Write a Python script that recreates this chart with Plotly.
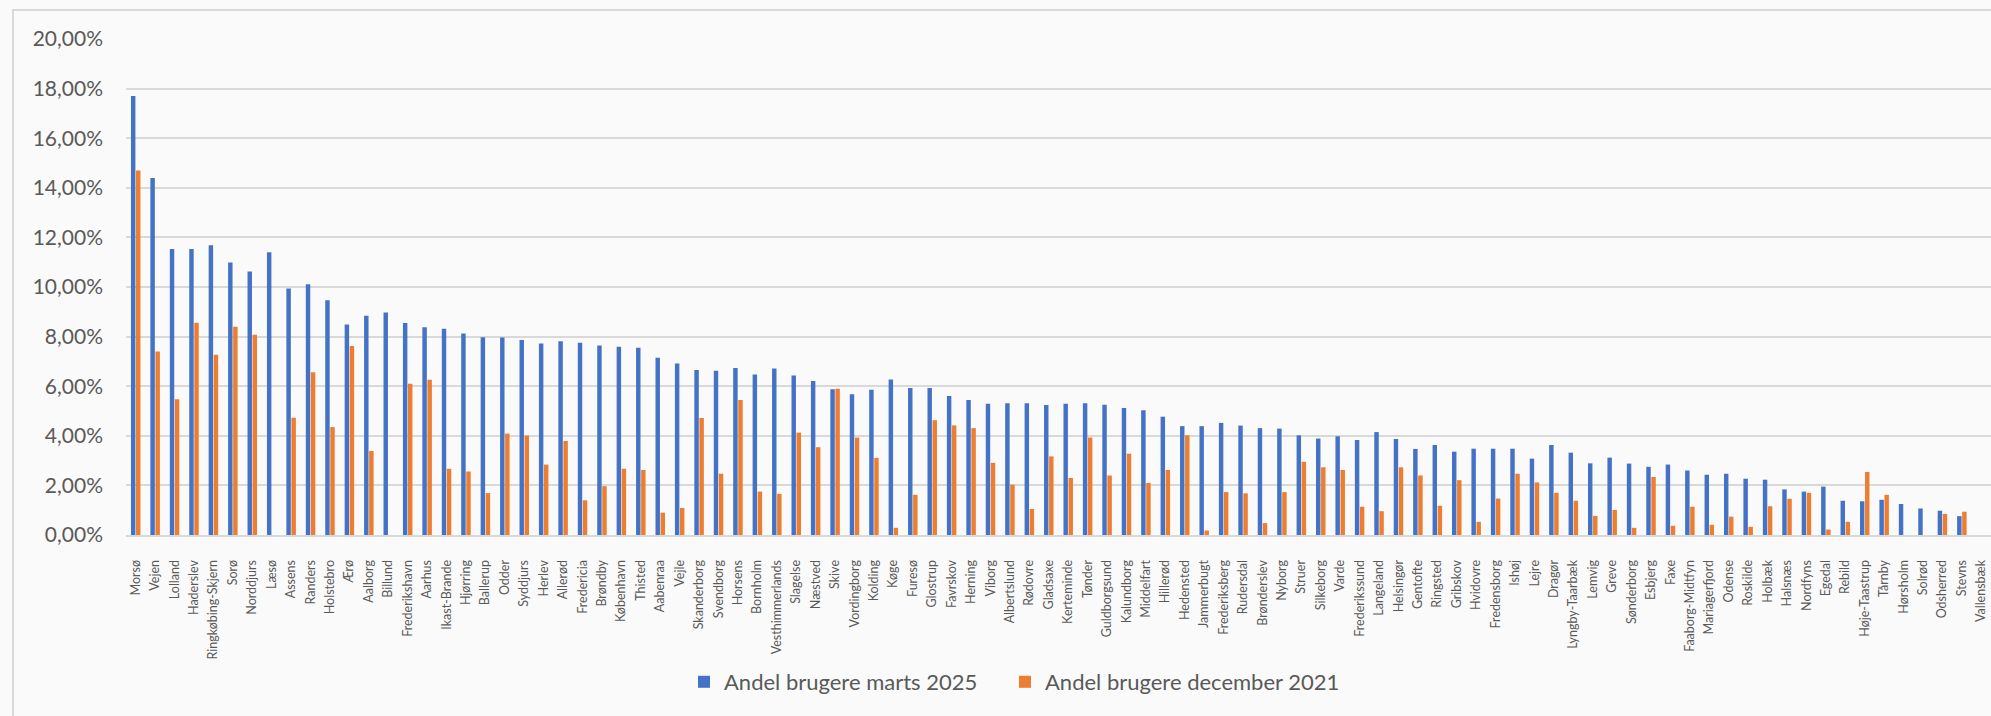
import plotly.graph_objects as go

kommuner = ["Morsø", "Vejen", "Lolland", "Haderslev", "Ringkøbing-Skjern", "Sorø", "Norddjurs", "Læsø",
            "Assens", "Randers", "Holstebro", "Ærø", "Aalborg", "Billund", "Frederikshavn", "Aarhus",
            "Ikast-Brande", "Hjørring", "Ballerup", "Odder", "Syddjurs", "Herlev", "Allerød", "Fredericia",
            "Brøndby", "København", "Thisted", "Aabenraa", "Vejle", "Skanderborg", "Svendborg", "Horsens",
            "Bornholm", "Vesthimmerlands", "Slagelse", "Næstved", "Skive", "Vordingborg", "Kolding", "Køge",
            "Furesø", "Glostrup", "Favrskov", "Herning", "Viborg", "Albertslund", "Rødovre", "Gladsaxe",
            "Kerteminde", "Tønder", "Guldborgsund", "Kalundborg", "Middelfart", "Hillerød", "Hedensted",
            "Jammerbugt", "Frederiksberg", "Rudersdal", "Brønderslev", "Nyborg", "Struer", "Silkeborg",
            "Varde", "Frederikssund", "Langeland", "Helsingør", "Gentofte", "Ringsted", "Gribskov",
            "Hvidovre", "Fredensborg", "Ishøj", "Lejre", "Dragør", "Lyngby-Taarbæk", "Lemvig", "Greve",
            "Sønderborg", "Esbjerg", "Faxe", "Faaborg-Midtfyn", "Mariagerfjord", "Odense", "Roskilde",
            "Holbæk", "Halsnæs", "Nordfyns", "Egedal", "Rebild", "Høje-Taastrup", "Tårnby", "Hørsholm",
            "Solrød", "Odsherred", "Stevns", "Vallensbæk"]

# percent values
marts_2025 = [17.70, 14.40, 11.53, 11.53, 11.68, 10.99, 10.63, 11.40,
              9.94, 10.11, 9.47, 8.49, 8.84, 8.97, 8.55, 8.38,
              8.32, 8.12, 7.97, 7.96, 7.86, 7.72, 7.81, 7.75,
              7.64, 7.59, 7.55, 7.15, 6.92, 6.65, 6.62, 6.73,
              6.47, 6.71, 6.43, 6.21, 5.88, 5.68, 5.86, 6.27,
              5.93, 5.93, 5.60, 5.44, 5.29, 5.31, 5.31, 5.24,
              5.29, 5.31, 5.25, 5.12, 5.03, 4.77, 4.39,
              4.39, 4.52, 4.41, 4.31, 4.29, 4.02, 3.89,
              3.98, 3.83, 4.15, 3.87, 3.47, 3.63, 3.36,
              3.48, 3.48, 3.48, 3.08, 3.63, 3.32, 2.89, 3.12,
              2.88, 2.75, 2.84, 2.60, 2.43, 2.47, 2.27,
              2.23, 1.84, 1.75, 1.95, 1.38, 1.36, 1.42, 1.25,
              1.07, 0.98, 0.76, None]

december_2021 = [14.70, 7.40, 5.47, 8.56, 7.27, 8.40, 8.07, None,
                 4.73, 6.56, 4.35, 7.62, 3.39, None, 6.10, 6.26,
                 2.67, 2.56, 1.69, 4.09, 4.01, 2.84, 3.79, 1.40,
                 1.97, 2.67, 2.62, 0.90, 1.09, 4.72, 2.47, 5.44,
                 1.75, 1.66, 4.13, 3.54, 5.90, 3.93, 3.11, 0.29,
                 1.62, 4.63, 4.42, 4.31, 2.91, 2.03, 1.05, 3.17,
                 2.30, 3.93, 2.40, 3.28, 2.10, 2.62, 4.02,
                 0.18, 1.73, 1.68, 0.48, 1.73, 2.95, 2.73,
                 2.62, 1.14, 0.96, 2.73, 2.40, 1.18, 2.21,
                 0.53, 1.47, 2.47, 2.12, 1.70, 1.38, 0.77, 1.01,
                 0.29, 2.34, 0.37, 1.14, 0.41, 0.74, 0.33,
                 1.16, 1.46, 1.70, 0.22, 0.53, 2.54, 1.62, None,
                 None, 0.85, 0.94, None]

y_ticks = [0, 0.02, 0.04, 0.06, 0.08, 0.10, 0.12, 0.14, 0.16, 0.18, 0.20]

def frac(vals):
    return [None if v is None else v / 100 for v in vals]

TXT = "#595959"
GRID = "#D9D9D9"
BG = "#FAFAFA"
W, H = 1991, 716
ML, MT, MB = 126, 39, 181
PW, PH = W - ML, H - MT - MB

fig = go.Figure()
fig.add_trace(go.Bar(x=kommuner, y=frac(marts_2025), name="Andel brugere marts 2025",
                     marker=dict(color="#4472C4", line=dict(width=0)), legend="legend"))
fig.add_trace(go.Bar(x=kommuner, y=frac(december_2021), name="Andel brugere december 2021",
                     marker=dict(color="#ED7D31", line=dict(width=0)), legend="legend2"))

leg_common = dict(orientation="h", yanchor="middle", y=-(682 - (MT + PH)) / PH,
                  xanchor="left", font=dict(size=22, color=TXT),
                  bgcolor="rgba(0,0,0,0)", itemwidth=30)

fig.update_layout(
    width=W, height=H,
    margin=dict(l=ML, r=0, t=MT, b=MB, autoexpand=False),
    paper_bgcolor=BG, plot_bgcolor=BG,
    barmode="group", bargap=0.48, bargroupgap=0.12,
    separators=",.",
    font=dict(family="Lato, 'Open Sans', sans-serif", color=TXT),
    showlegend=True,
    legend=dict(x=(684 - ML) / PW, **leg_common),
    legend2=dict(x=(1005 - ML) / PW, **leg_common),
    xaxis=dict(type="category", categoryorder="array", categoryarray=kommuner,
               range=[-0.5, len(kommuner) - 0.5],
               tickangle=-90, tickfont=dict(size=12.5, color=TXT),
               showgrid=False, showline=True, linecolor=GRID, linewidth=2,
               ticks="", ticklabelstandoff=18, fixedrange=True),
    yaxis=dict(range=[0, 0.20], tickvals=y_ticks, tickformat=".2%",
               tickfont=dict(size=21, color=TXT), showgrid=True, gridcolor=GRID, gridwidth=2,
               zeroline=False, showline=False, ticks="", ticklabelstandoff=22, fixedrange=True),
    shapes=[dict(type="rect", xref="paper", yref="paper",
                 x0=(13 - ML) / PW, x1=1.05, y0=-0.6, y1=(MT + PH - 10) / PH,
                 line=dict(color=GRID, width=2), fillcolor="rgba(0,0,0,0)", layer="below")],
)

fig.write_html("out.html", config={"displayModeBar": False},
               post_script="document.body.style.margin='0';document.body.style.overflow='hidden';")
